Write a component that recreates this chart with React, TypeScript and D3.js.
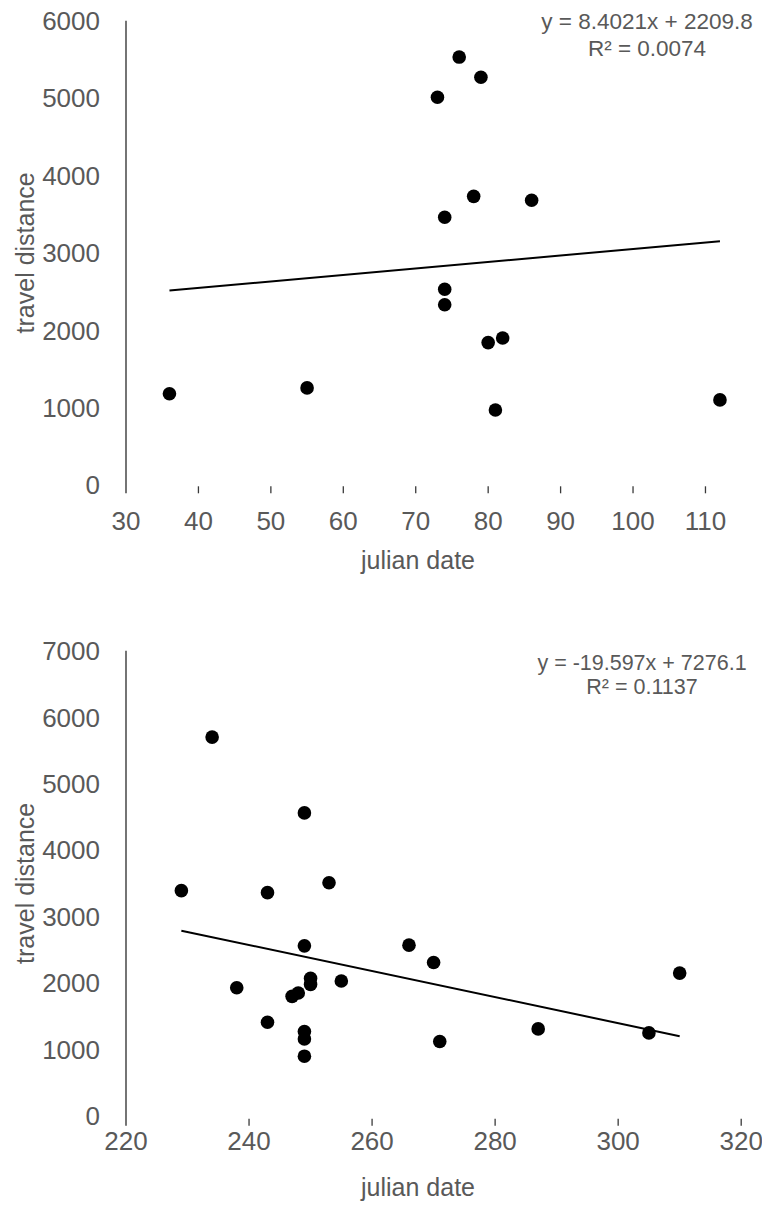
import React from "react";
import * as d3 from "d3";

// ---- Data ----
const topX = [36, 55, 73, 76, 79, 74, 78, 86, 74, 74, 80, 82, 81, 112];
const topY = [1180, 1255, 5010, 5530, 5270, 3460, 3730, 3680, 2530, 2330, 1840, 1900, 970, 1100];
const topXTicks = [30, 40, 50, 60, 70, 80, 90, 100, 110];
const topYTicks = [0, 1000, 2000, 3000, 4000, 5000, 6000];
const topFit = { slope: 8.4021, intercept: 2209.8 };
const topEq = ["y = 8.4021x + 2209.8", "R\u00B2 = 0.0074"];

const botX = [229, 234, 238, 243, 243, 247, 248, 249, 249, 249, 249, 249, 250, 250, 253, 255, 266, 270, 271, 287, 305, 310];
const botY = [3390, 5700, 1930, 3360, 1410, 1800, 1850, 4560, 2560, 1270, 1160, 900, 2070, 1980, 3510, 2030, 2570, 2310, 1120, 1310, 1250, 2150];
const botXTicks = [220, 240, 260, 280, 300, 320];
const botYTicks = [0, 1000, 2000, 3000, 4000, 5000, 6000, 7000];
const botFit = { slope: -19.597, intercept: 7276.1 };
const botEq = ["y = -19.597x + 7276.1", "R\u00B2 = 0.1137"];

const xTitle = "julian date";
const yTitle = "travel distance";

const FONT = "'Liberation Sans', Arial, sans-serif";
const GRAY = "#595959";

type PanelProps = {
  xs: number[];
  ys: number[];
  xTicks: number[];
  yTicks: number[];
  fit: { slope: number; intercept: number };
  eq: string[];
  xDomain: [number, number];
  xRange: [number, number];
  yDomain: [number, number];
  yRange: [number, number];
  axisExt: number;
  xLabelY: number;
  xTitleY: number;
  eqX: number;
  eqY: [number, number];
  eqSize: number;
};

function Panel(p: PanelProps) {
  const x = d3.scaleLinear().domain(p.xDomain).range(p.xRange);
  const y = d3.scaleLinear().domain(p.yDomain).range(p.yRange);
  const y0 = y(0);
  const axisX = x(p.xDomain[0]);
  const axisBottom = y0 + p.axisExt;
  const xMin = d3.min(p.xs) as number;
  const xMax = d3.max(p.xs) as number;
  const line = d3
    .line<number>()
    .x((d) => x(d))
    .y((d) => y(p.fit.slope * d + p.fit.intercept));
  const yMid = (y(p.yDomain[1]) + y0) / 2;
  return (
    <g>
      {/* y axis line */}
      <line x1={axisX} x2={axisX} y1={y(p.yDomain[1])} y2={axisBottom} stroke="#3a3a3a" strokeWidth={1.4} />
      {/* x tick marks */}
      {p.xTicks.slice(1).map((t) => (
        <line key={"xt" + t} x1={x(t)} x2={x(t)} y1={axisBottom - 7} y2={axisBottom} stroke="#3a3a3a" strokeWidth={1.3} />
      ))}
      {/* y tick labels */}
      {p.yTicks.map((t) => (
        <text key={"yl" + t} x={100} y={y(t)} dy="0.36em" textAnchor="end" fontSize={26} fill={GRAY} fontFamily={FONT}>
          {t}
        </text>
      ))}
      {/* x tick labels */}
      {p.xTicks.map((t) => (
        <text key={"xl" + t} x={x(t)} y={p.xLabelY} textAnchor="middle" fontSize={26} fill={GRAY} fontFamily={FONT}>
          {t}
        </text>
      ))}
      {/* axis titles */}
      <text x={418} y={p.xTitleY} textAnchor="middle" fontSize={25} fill={GRAY} fontFamily={FONT}>
        {xTitle}
      </text>
      <text
        transform={`translate(33.5,${yMid}) rotate(-90)`}
        textAnchor="middle"
        fontSize={25}
        fill={GRAY}
        fontFamily={FONT}
      >
        {yTitle}
      </text>
      {/* trend line */}
      <path d={line([xMin, xMax]) || ""} fill="none" stroke="#000" strokeWidth={2} />
      {/* points */}
      {p.xs.map((v, i) => (
        <circle key={"pt" + i} cx={x(v)} cy={y(p.ys[i])} r={6.8} fill="#000" />
      ))}
      {/* equation */}
      <text x={p.eqX} y={p.eqY[0]} textAnchor="middle" fontSize={p.eqSize} fill={GRAY} fontFamily={FONT}>
        {p.eq[0]}
      </text>
      <text x={p.eqX} y={p.eqY[1]} textAnchor="middle" fontSize={p.eqSize} fill={GRAY} fontFamily={FONT}>
        {p.eq[1]}
      </text>
    </g>
  );
}

export default function App() {
  return (
    <div style={{ position: "absolute", left: 0, top: 0, width: 762, height: 1206, background: "#fff" }}>
      <svg width={762} height={1206} viewBox="0 0 762 1206" style={{ display: "block" }}>
        <rect x={0} y={0} width={762} height={1206} fill="#fff" />
        <Panel
          xs={topX}
          ys={topY}
          xTicks={topXTicks}
          yTicks={topYTicks}
          fit={topFit}
          eq={topEq}
          xDomain={[30, 120]}
          xRange={[126, 777.9]}
          yDomain={[0, 6000]}
          yRange={[485, 20.7]}
          axisExt={8.3}
          xLabelY={530}
          xTitleY={569}
          eqX={647}
          eqY={[29, 56]}
          eqSize={22.5}
        />
        <Panel
          xs={botX}
          ys={botY}
          xTicks={botXTicks}
          yTicks={botYTicks}
          fit={botFit}
          eq={botEq}
          xDomain={[220, 320]}
          xRange={[126, 741.2]}
          yDomain={[0, 7000]}
          yRange={[1116, 650.7]}
          axisExt={9.7}
          xLabelY={1150}
          xTitleY={1196}
          eqX={642}
          eqY={[670, 694]}
          eqSize={21.5}
        />
      </svg>
    </div>
  );
}
